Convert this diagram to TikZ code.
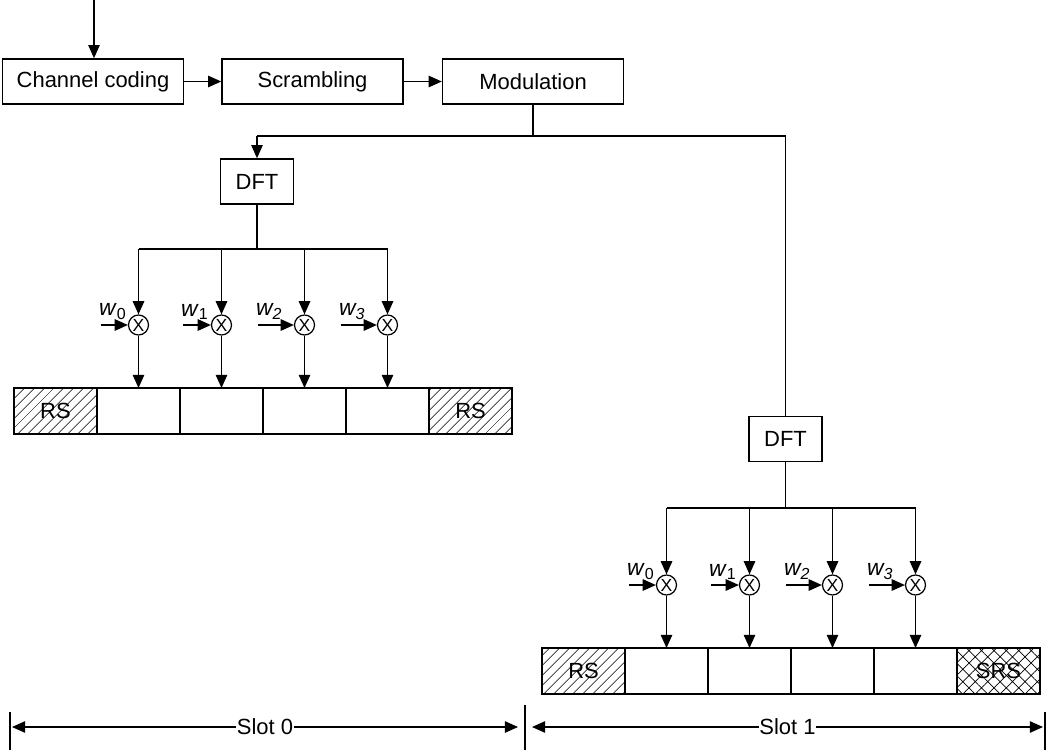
\documentclass[tikz,border=0pt]{standalone}
\usepackage{fontspec}
\setmainfont{Liberation Sans}
\usetikzlibrary{arrows.meta, patterns.meta, calc, positioning}

\tikzset{
  block/.style={draw, line width=0.9pt, minimum width=3.62cm, minimum height=0.9cm, inner sep=0pt, font=\fontsize{12.5}{15}\selectfont},
  dftbox/.style={block, minimum width=1.46cm},
  cell/.style={draw, line width=0.9pt, minimum width=1.66cm, minimum height=0.92cm, inner sep=0pt, outer sep=0pt, font=\fontsize{12.5}{15}\selectfont},
  rscell/.style={cell, pattern={Lines[angle=45, distance=4pt, line width=0.4pt]}},
  srscell/.style={cell, pattern={Hatch[angle=45, distance=5pt, line width=0.4pt]}},
  mult/.style={draw, circle, line width=0.7pt, minimum size=0.4cm, inner sep=0pt, font=\fontsize{10}{10}\selectfont},
  wlabel/.style={anchor=south west, inner sep=0.5pt, font=\fontsize{13}{15}\selectfont},
  wire/.style={line width=0.8pt},
  flow/.style={wire, -{Triangle[length=7.5pt, width=6.5pt]}},
  span/.style={wire, {Triangle[length=7.5pt, width=6.5pt]}-{Triangle[length=7.5pt, width=6.5pt]}},
}

\begin{document}
\begin{tikzpicture}[x=0.02cm, y=-0.02cm]
  \useasboundingbox (0,0) rectangle (1050,750);

  % Transmit chain
  \coordinate (input) at (94,0);
  \node[block] (coding) at (93,81.5) {Channel coding};
  \node[block, right=0.74cm of coding] (scrambling) {Scrambling};
  \node[block, right=0.76cm of scrambling] (modulation) {Modulation};
  \draw[flow] (input) -- (input |- coding.north);
  \draw[flow] (coding) -- (scrambling);
  \draw[flow] (scrambling) -- (modulation);

  % Split towards the two slots
  \coordinate (split) at (0,136);
  \node[dftbox] (dft0) at (257,181.5) {DFT};
  \node[dftbox] (dft1) at (785.5,439) {DFT};
  \draw[wire] (modulation) -- (modulation |- split);
  \draw[wire] (dft0 |- split) -- (dft1 |- split) -- (dft1);
  \draw[flow] (dft0 |- split) -- (dft0);

  % Slot 0 symbols
  \node[rscell] (s0c0) at (55.5,411) {RS};
  \foreach \i in {1,...,4}
    \node[cell] (s0c\i) at ({55.5+83*\i},411) {};
  \node[rscell] (s0c5) at (470.5,411) {RS};

  % Slot 1 symbols
  \node[rscell] (s1c0) at (583.5,671) {RS};
  \foreach \i in {1,...,4}
    \node[cell] (s1c\i) at ({583.5+83*\i},671) {};
  \node[srscell] (s1c5) at (998.5,671) {SRS};

  % Spreading of the DFT output by the weights
  \coordinate (s0bus) at (0,249);
  \coordinate (s1bus) at (0,508);
  \foreach \s in {0,1} {
    \draw[wire] (dft\s) -- (dft\s |- s\s bus);
    \draw[wire] (s\s c1 |- s\s bus) -- (s\s c4 |- s\s bus);
    \foreach \i/\len/\lbl in {1/27/\textit{w}\textsubscript{0}, 2/28/\textit{w}\textsubscript{1},
                              3/36/\textit{w\textsubscript{2}}, 4/36/\textit{w\textsubscript{3}}} {
      \node[mult] (s\s m\i) at ($(s\s c\i)+(0,-86)$) {X};
      \draw[flow] (s\s c\i |- s\s bus) -- (s\s m\i);
      \draw[flow] (s\s m\i) -- (s\s c\i);
      \coordinate (s\s w\i) at ($(s\s m\i.west)+(-\len,0)$);
      \draw[flow] (s\s w\i) -- (s\s m\i.west);
      \node[wlabel] (s\s l\i) at ($(s\s w\i)+(-3,-4)$) {\lbl};
    }
  }

  % Slot durations
  \coordinate (t0) at (10,712);
  \coordinate (t1) at (525,705);
  \coordinate (t2) at (1045,712);
  \draw[wire] (t0) -- (t0 |- 0,750);
  \draw[wire] (t1) -- (t1 |- 0,750);
  \draw[wire] (t2) -- (t2 |- 0,750);
  \draw[span] (12,727) -- node[fill=white, inner sep=0.5pt, font=\fontsize{12.5}{15}\selectfont] (slot0) {Slot 0} (518,727);
  \draw[span] (532,727) -- node[fill=white, inner sep=0.5pt, font=\fontsize{12.5}{15}\selectfont] (slot1) {Slot 1} (1043,727);
\end{tikzpicture}
\end{document}
